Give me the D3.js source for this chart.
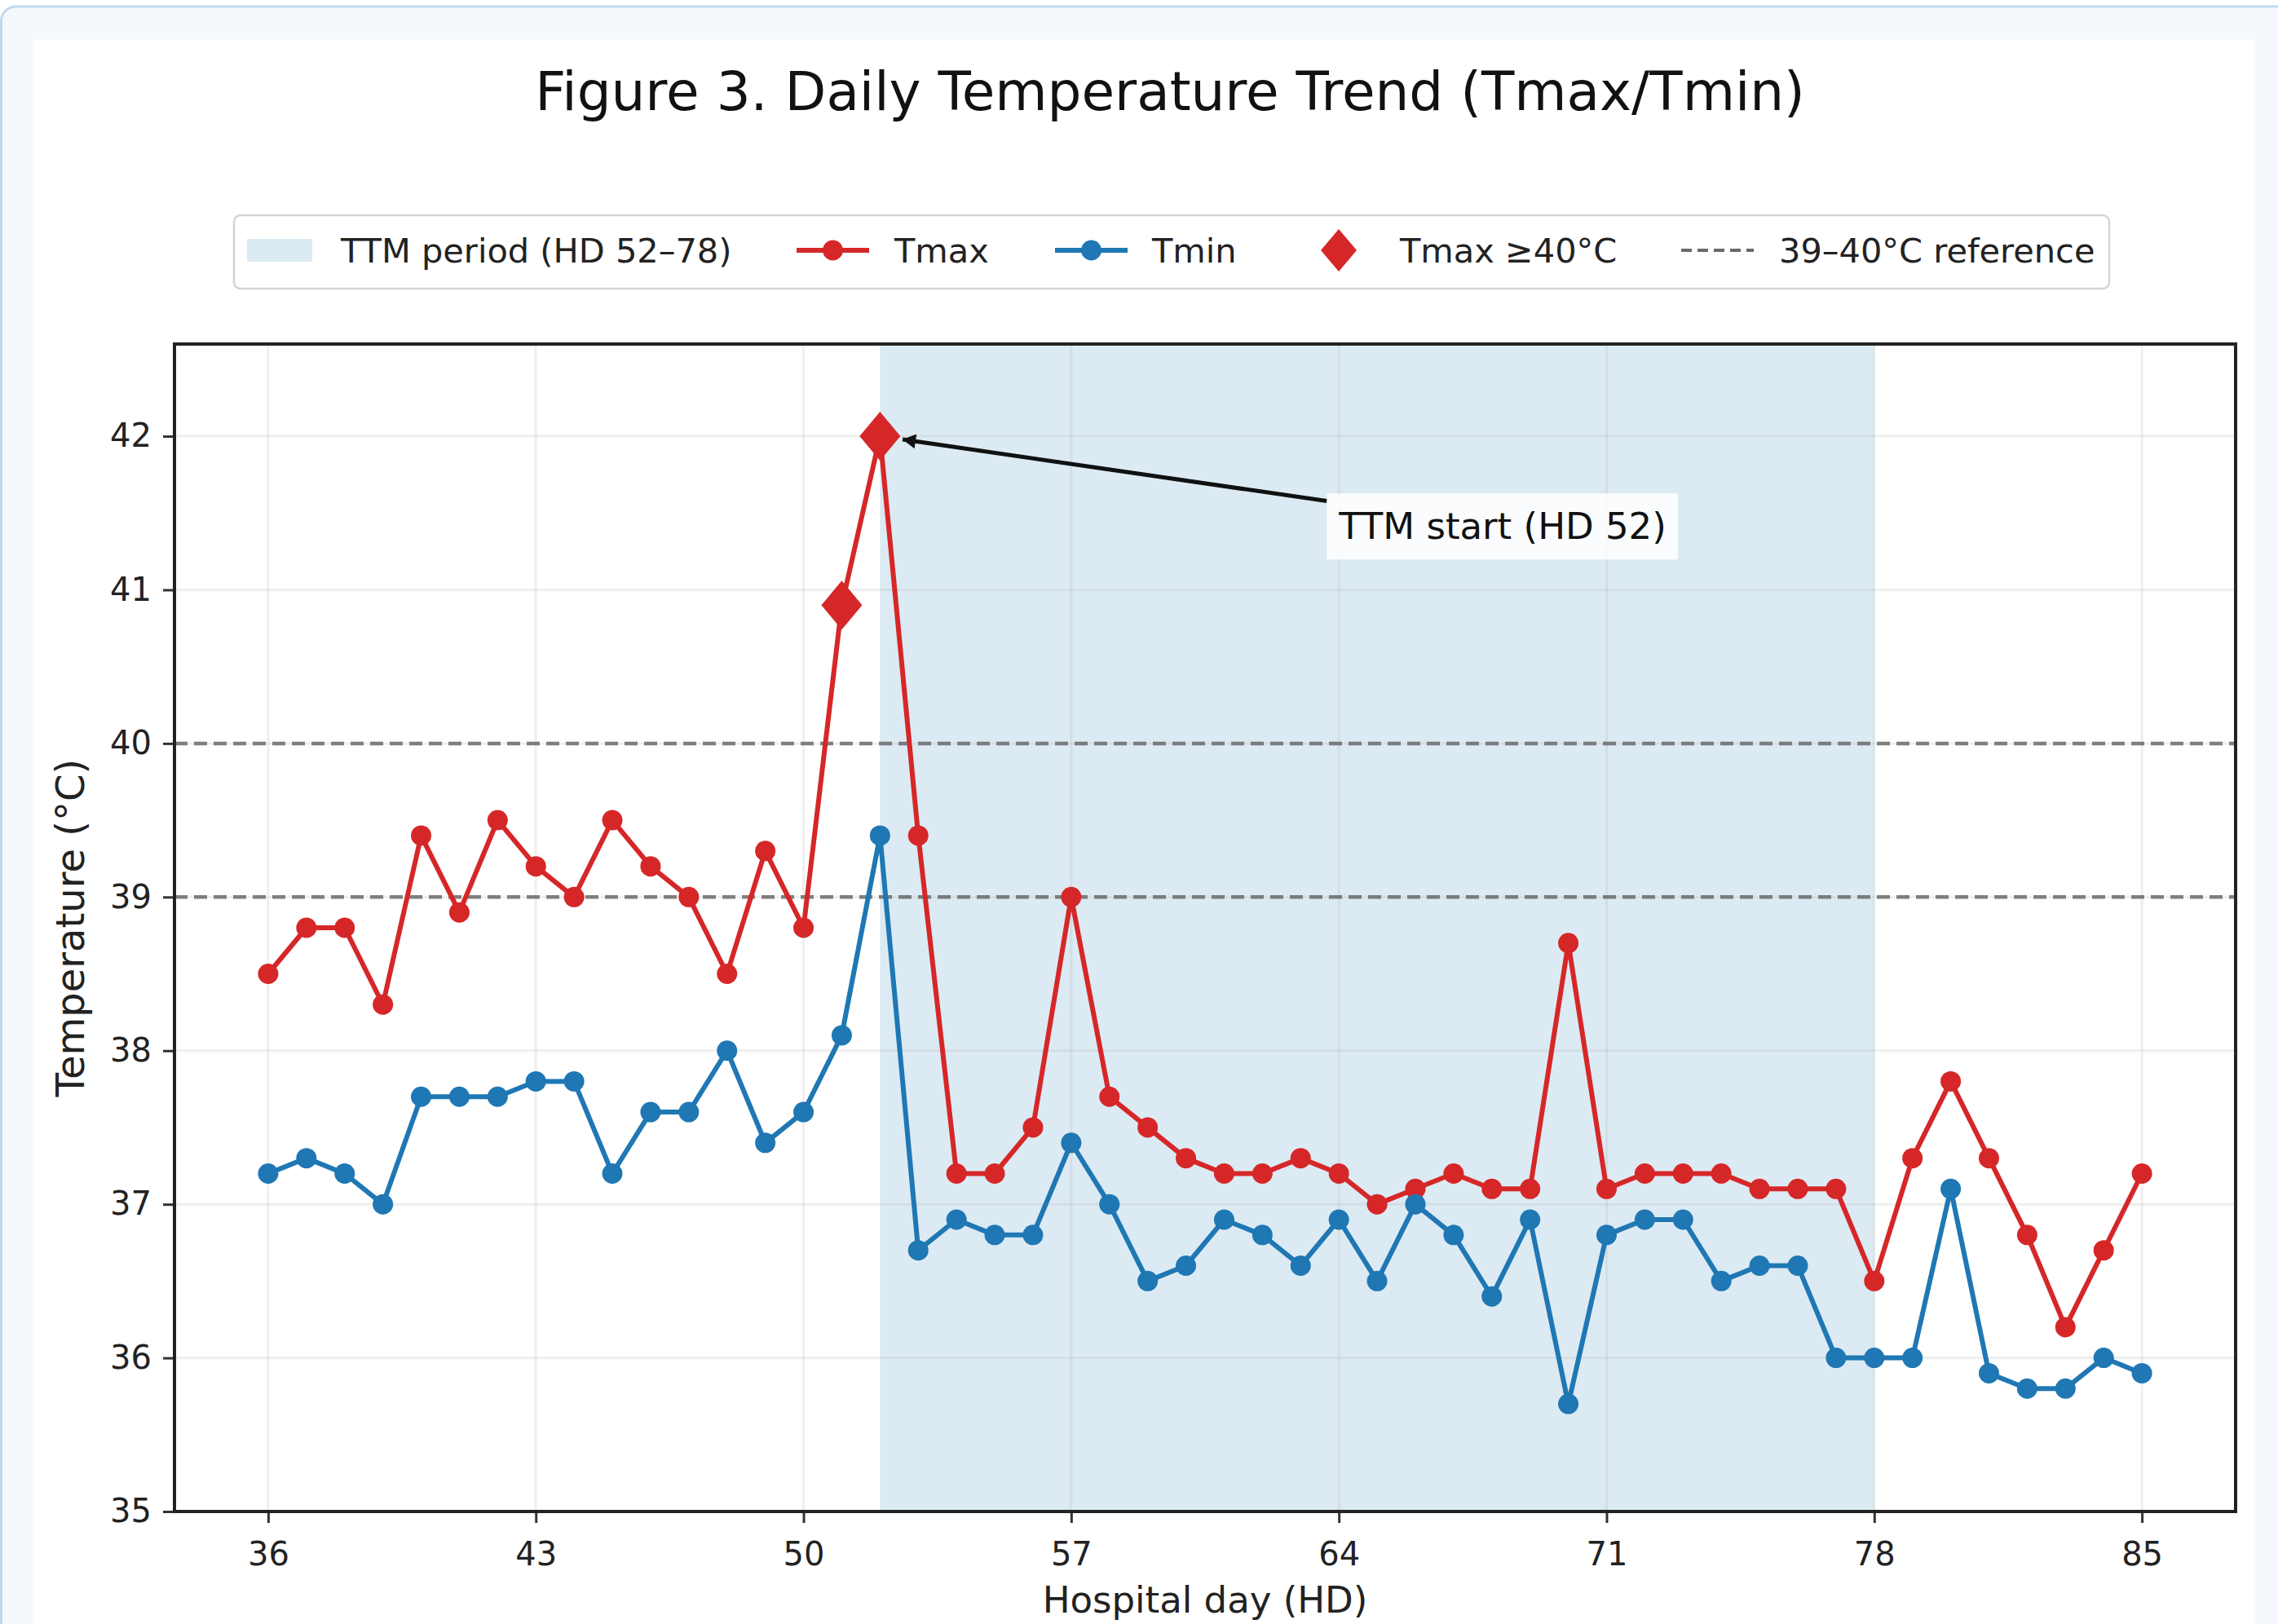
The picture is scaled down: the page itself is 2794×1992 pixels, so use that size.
<!DOCTYPE html>
<html>
<head>
<meta charset="utf-8">
<script src="https://cdn.jsdelivr.net/npm/d3@7"></script>
<style>
    body { margin: 0; background: #fff; }
    svg { display: block; font-family: "DejaVu Sans", sans-serif; }
</style>
</head>
<body>
<svg id="chart" width="2794" height="1992"></svg>
<script>
    // hospital days and daily temperatures
    var days = [36, 37, 38, 39, 40, 41, 42, 43, 44, 45,
        46, 47, 48, 49, 50, 51, 52, 53, 54, 55,
        56, 57, 58, 59, 60, 61, 62, 63, 64, 65,
        66, 67, 68, 69, 70, 71, 72, 73, 74, 75,
        76, 77, 78, 79, 80, 81, 82, 83, 84, 85];
    var tmax = [38.5, 38.8, 38.8, 38.3, 39.4, 38.9, 39.5, 39.2, 39.0, 39.5,
        39.2, 39.0, 38.5, 39.3, 38.8, 40.9, 42.0, 39.4, 37.2, 37.2,
        37.5, 39.0, 37.7, 37.5, 37.3, 37.2, 37.2, 37.3, 37.2, 37.0,
        37.1, 37.2, 37.1, 37.1, 38.7, 37.1, 37.2, 37.2, 37.2, 37.1,
        37.1, 37.1, 36.5, 37.3, 37.8, 37.3, 36.8, 36.2, 36.7, 37.2];
    var tmin = [37.2, 37.3, 37.2, 37.0, 37.7, 37.7, 37.7, 37.8, 37.8, 37.2,
        37.6, 37.6, 38.0, 37.4, 37.6, 38.1, 39.4, 36.7, 36.9, 36.8,
        36.8, 37.4, 37.0, 36.5, 36.6, 36.9, 36.8, 36.6, 36.9, 36.5,
        37.0, 36.8, 36.4, 36.9, 35.7, 36.8, 36.9, 36.9, 36.5, 36.6,
        36.6, 36.0, 36.0, 36.0, 37.1, 35.9, 35.8, 35.8, 36.0, 35.9];
    var xTicks = [36, 43, 50, 57, 64, 71, 78, 85];
    var yTicks = [35, 36, 37, 38, 39, 40, 41, 42];
    var refLines = [39, 40];
    var ttmPeriod = [52, 78];
    var hotThreshold = 40;

    var red = "#d62728",
        blue = "#1f77b4";

    var svg = d3.select("#chart");

    // page frame + white figure card
    svg.append("rect")
        .attr("x", 1.5).attr("y", 8).attr("width", 2840).attr("height", 2100)
        .attr("rx", 18)
        .attr("fill", "#f5f9fd").attr("stroke", "#c3d8ec").attr("stroke-width", 3);
    svg.append("rect")
        .attr("x", 41).attr("y", 49).attr("width", 2724).attr("height", 2000)
        .attr("fill", "#fff");

    var margin = { top: 422, right: 52, bottom: 138, left: 214 },
        width = 2794 - margin.left - margin.right,
        height = 1992 - margin.top - margin.bottom;

    var x = d3.scaleLinear().domain([33.55, 87.45]).range([0, width]);
    var y = d3.scaleLinear().domain([35, 42.6]).range([height, 0]);

    var g = svg.append("g").attr("transform", "translate(" + margin.left + "," + margin.top + ")");

    var data = days.map(function(d, i) {
        return { day: d, tmax: tmax[i], tmin: tmin[i] };
    });

    // TTM shading
    g.append("rect")
        .attr("x", x(ttmPeriod[0]))
        .attr("y", 0)
        .attr("width", x(ttmPeriod[1]) - x(ttmPeriod[0]))
        .attr("height", height)
        .attr("fill", blue).attr("fill-opacity", 0.155);

    // grid
    g.append("g").selectAll("line").data(xTicks).enter().append("line")
        .attr("x1", function(d) { return x(d); }).attr("x2", function(d) { return x(d); })
        .attr("y1", 0).attr("y2", height)
        .attr("stroke", "#b0b0b0").attr("stroke-opacity", 0.2).attr("stroke-width", 3);
    g.append("g").selectAll("line").data(yTicks).enter().append("line")
        .attr("y1", function(d) { return y(d); }).attr("y2", function(d) { return y(d); })
        .attr("x1", 0).attr("x2", width)
        .attr("stroke", "#b0b0b0").attr("stroke-opacity", 0.2).attr("stroke-width", 3);

    // reference lines
    g.append("g").selectAll("line").data(refLines).enter().append("line")
        .attr("y1", function(d) { return y(d); }).attr("y2", function(d) { return y(d); })
        .attr("x1", 0).attr("x2", width)
        .attr("stroke", "#6a6a6a").attr("stroke-opacity", 0.85)
        .attr("stroke-width", 4.5).attr("stroke-dasharray", "16,8");

    // series
    function drawSeries(key, color) {
        var line = d3.line()
            .x(function(d) { return x(d.day); })
            .y(function(d) { return y(d[key]); });
        g.append("path").datum(data)
            .attr("fill", "none").attr("stroke", color).attr("stroke-width", 6)
            .attr("stroke-linejoin", "round")
            .attr("d", line);
        g.append("g").selectAll("circle").data(data).enter().append("circle")
            .attr("cx", function(d) { return x(d.day); })
            .attr("cy", function(d) { return y(d[key]); })
            .attr("r", 12.5)
            .attr("fill", color);
    }
    drawSeries("tmax", red);
    drawSeries("tmin", blue);

    function diamond(w, h) {
        return "M0," + (-h) + "L" + w + ",0L0," + h + "L" + (-w) + ",0Z";
    }

    g.append("g").selectAll("path")
        .data(data.filter(function(d) { return d.tmax >= hotThreshold; }))
        .enter().append("path")
        .attr("transform", function(d) { return "translate(" + x(d.day) + "," + y(d.tmax) + ")"; })
        .attr("d", diamond(25, 30))
        .attr("fill", red);

    // axes
    var xAxis = g.append("g")
        .attr("transform", "translate(0," + height + ")")
        .call(d3.axisBottom(x).tickValues(xTicks).tickSize(14).tickPadding(24).tickFormat(d3.format("d")));
    var yAxis = g.append("g")
        .call(d3.axisLeft(y).tickValues(yTicks).tickSize(14).tickPadding(14).tickFormat(d3.format("d")));
    [xAxis, yAxis].forEach(function(a) {
        a.select(".domain").remove();
        a.selectAll(".tick line").attr("stroke", "#333").attr("stroke-width", 3);
        a.selectAll(".tick text").attr("fill", "#222").attr("font-size", 40)
            .attr("font-family", "DejaVu Sans");
    });

    // frame
    g.append("rect")
        .attr("width", width).attr("height", height)
        .attr("fill", "none").attr("stroke", "#222").attr("stroke-width", 4);

    // annotation
    var ann = g.append("g");
    var annText = ann.append("text")
        .attr("x", x(64)).attr("y", y(41.33))
        .attr("font-size", 45).attr("fill", "#111")
        .text("TTM start (HD 52)");
    var bb = annText.node().getBBox();
    var pad = 14;
    var box = { x: bb.x - pad, y: bb.y - pad, w: bb.width + 2 * pad, h: bb.height + 2 * pad };
    ann.insert("rect", "text")
        .attr("x", box.x).attr("y", box.y).attr("width", box.w).attr("height", box.h)
        .attr("fill", "#fff").attr("fill-opacity", 0.85);

    // arrow from box edge toward the TTM start point
    var px = x(52), py = y(42);
    var cx = box.x + box.w / 2, cy = box.y + box.h / 2;
    var t = (box.x - px) / (cx - px);
    var sx = box.x, sy = py + (cy - py) * t;
    var len = Math.hypot(sx - px, sy - py);
    var ux = (sx - px) / len, uy = (sy - py) / len;
    var tipX = px + ux * 28, tipY = py + uy * 28;
    ann.append("line")
        .attr("x1", sx).attr("y1", sy).attr("x2", tipX).attr("y2", tipY)
        .attr("stroke", "#111").attr("stroke-width", 5);
    var hl = 16, hw = 9;
    ann.append("path")
        .attr("d", "M" + tipX + "," + tipY +
            "L" + (tipX + ux * hl - uy * hw) + "," + (tipY + uy * hl + ux * hw) +
            "L" + (tipX + ux * hl + uy * hw) + "," + (tipY + uy * hl - ux * hw) + "Z")
        .attr("fill", "#111");

    // axis labels
    svg.append("text")
        .attr("x", margin.left + width / 2).attr("y", 1978)
        .attr("text-anchor", "middle").attr("font-size", 45).attr("fill", "#222")
        .text("Hospital day (HD)");
    svg.append("text")
        .attr("transform", "translate(86," + (margin.top + height / 2) + ") rotate(-90)")
        .attr("dy", "0.35em")
        .attr("text-anchor", "middle").attr("font-size", 48).attr("fill", "#222")
        .text("Temperature (°C)");

    // title
    svg.append("text")
        .attr("x", 1435).attr("y", 135)
        .attr("text-anchor", "middle").attr("font-size", 66).attr("fill", "#111")
        .text("Figure 3. Daily Temperature Trend (Tmax/Tmin)");

    // legend
    var legend = svg.append("g");
    legend.append("rect")
        .attr("x", 287).attr("y", 264).attr("width", 2300).attr("height", 90)
        .attr("rx", 8)
        .attr("fill", "#fff").attr("stroke", "#d4d4d4").attr("stroke-width", 2.5);
    var ly = 307;
    var items = [
        { kind: "patch", x: 303, tx: 418, label: "TTM period (HD 52–78)" },
        { kind: "line", color: red, x: 977, tx: 1097, label: "Tmax" },
        { kind: "line", color: blue, x: 1294, tx: 1413, label: "Tmin" },
        { kind: "diamond", x: 1620, tx: 1717, label: "Tmax ≥40°C" },
        { kind: "dash", x: 2062, tx: 2182, label: "39–40°C reference" }
    ];
    items.forEach(function(it) {
        var k = legend.append("g");
        if (it.kind === "patch") {
            k.append("rect").attr("x", it.x).attr("y", ly - 14).attr("width", 80).attr("height", 28)
                .attr("fill", blue).attr("fill-opacity", 0.155);
        } else if (it.kind === "line") {
            k.append("line").attr("x1", it.x).attr("x2", it.x + 89).attr("y1", ly).attr("y2", ly)
                .attr("stroke", it.color).attr("stroke-width", 6);
            k.append("circle").attr("cx", it.x + 44.5).attr("cy", ly).attr("r", 12.5).attr("fill", it.color);
        } else if (it.kind === "diamond") {
            k.append("path").attr("transform", "translate(" + (it.x + 22) + "," + ly + ")")
                .attr("d", diamond(22, 26)).attr("fill", red);
        } else {
            k.append("line").attr("x1", it.x).attr("x2", it.x + 89).attr("y1", ly).attr("y2", ly)
                .attr("stroke", "#6a6a6a").attr("stroke-width", 4).attr("stroke-dasharray", "13,7");
        }
        k.append("text").attr("x", it.tx).attr("y", ly).attr("dy", "0.35em")
            .attr("font-size", 41.5).attr("fill", "#222")
            .text(it.label);
    });
</script>
</body>
</html>
